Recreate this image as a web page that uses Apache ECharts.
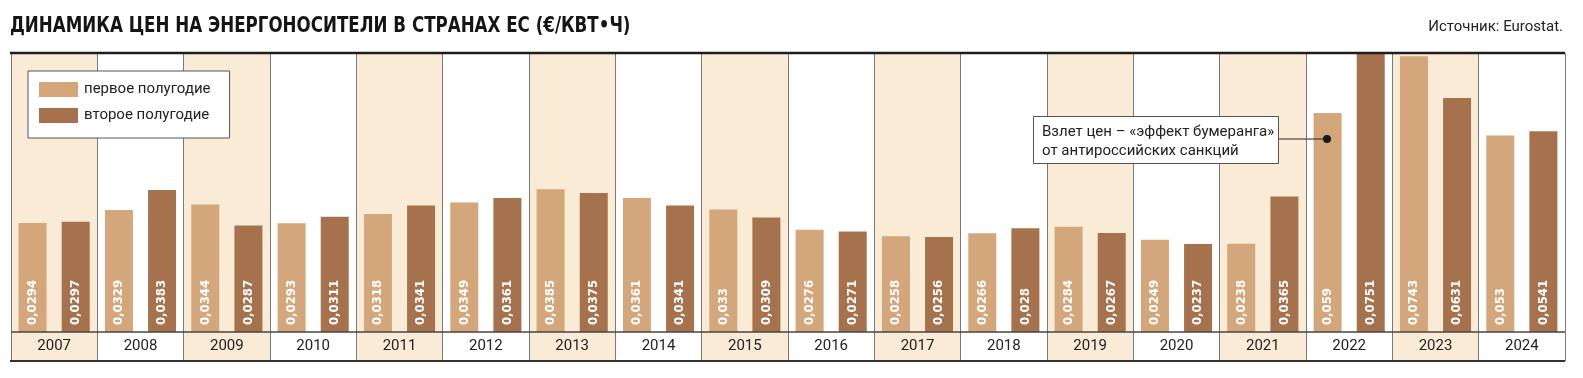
<!DOCTYPE html>
<html>
<head>
<meta charset="utf-8">
<script src="https://cdn.jsdelivr.net/npm/echarts@6/dist/echarts.min.js"></script>
<style>
html,body{margin:0;padding:0;background:#fff;}
#chart{width:1583px;height:378px;}
</style>
</head>
<body>
<div id="chart"></div>
<script>
const years = ['2007','2008','2009','2010','2011','2012','2013','2014','2015','2016','2017','2018','2019','2020','2021','2022','2023','2024'];
const firstHalf = [0.0294,0.0329,0.0344,0.0293,0.0318,0.0349,0.0385,0.0361,0.033,0.0276,0.0258,0.0266,0.0284,0.0249,0.0238,0.059,0.0743,0.053];
const secondHalf = [0.0297,0.0383,0.0287,0.0311,0.0341,0.0361,0.0375,0.0341,0.0309,0.0271,0.0256,0.028,0.0267,0.0237,0.0365,0.0751,0.0631,0.0541];
const seriesNames = ['первое полугодие','второе полугодие'];
const titleText = 'ДИНАМИКА ЦЕН НА ЭНЕРГОНОСИТЕЛИ В СТРАНАХ ЕС (€/КВТ•Ч)';
const sourceText = 'Источник: Eurostat.';
const noteLines = ['Взлет цен – «эффект бумеранга»', 'от антироссийских санкций'];

const LIGHT = '#d4a67b';
const DARK = '#a6724d';
const BEIGE = '#f9ebd6';
const COND = '"DejaVu Sans Condensed", "DejaVu Sans", sans-serif';
const SANS = 'Roboto, "Noto Sans", sans-serif';

const chart = echarts.init(document.getElementById('chart'));

const barLabel = {
  show: true,
  position: 'insideBottom',
  rotate: 90,
  align: 'left',
  verticalAlign: 'middle',
  distance: 7,
  color: '#fff',
  fontFamily: COND,
  fontWeight: 'bold',
  fontSize: 13,
  formatter: p => String(p.value).replace('.', ',')
};

chart.setOption({
  animation: false,
  backgroundColor: '#fff',
  legend: {
    orient: 'vertical',
    left: 28,
    top: 71,
    data: seriesNames,
    icon: 'rect',
    itemWidth: 39,
    itemHeight: 15,
    itemGap: 11,
    padding: [11, 19, 15, 11],
    backgroundColor: '#fff',
    borderColor: '#555',
    borderWidth: 1,
    borderRadius: 0,
    selectedMode: false,
    textStyle: { fontFamily: SANS, fontSize: 15, color: '#222', lineHeight: 15, padding: [0,0,0,1] }
  },
  grid: { left: 11, right: 18, top: 53, bottom: 17, containLabel: false, outerBoundsMode: 'none' },
  xAxis: {
    type: 'category',
    data: years,
    boundaryGap: true,
    axisLine: { show: false, onZero: false },
    axisTick: { show: false },
    axisLabel: { inside: true, fontFamily: SANS, fontSize: 15, color: '#222', margin: 7, verticalAlign: 'bottom' },
    splitLine: { show: true, lineStyle: { color: '#7a7a7a', width: 1 } },
    splitArea: { show: true, areaStyle: { color: [BEIGE, 'rgba(255,255,255,0)'] } }
  },
  yAxis: {
    type: 'value',
    min: -0.0078,
    max: 0.0752,
    show: false,
    splitLine: { show: false }
  },
  series: [
    {
      name: seriesNames[0], type: 'bar', data: firstHalf,
      barWidth: 28, barGap: '54%',
      itemStyle: { color: LIGHT },
      label: barLabel,
      markLine: {
        silent: true,
        symbol: 'none',
        label: { show: false },
        lineStyle: { color: '#444', width: 1.5, type: 'solid' },
        data: [{ yAxis: 0 }]
      }
    },
    {
      name: seriesNames[1], type: 'bar', data: secondHalf,
      barWidth: 28, barGap: '54%',
      itemStyle: { color: DARK },
      label: barLabel
    }
  ],
  graphic: [
    { type: 'text', x: 10, y: 26, scaleX: 0.843, style: { text: titleText, font: 'bold 22px ' + COND, fill: '#151515', textVerticalAlign: 'middle' } },
    { type: 'line', shape: { x1: 10, y1: 53, x2: 1565, y2: 53 }, style: { stroke: '#1e1e1e', lineWidth: 2.5 }, z: 10 },
    { type: 'line', shape: { x1: 10, y1: 361, x2: 1565, y2: 361 }, style: { stroke: '#333', lineWidth: 2 }, z: 10 },
    { type: 'text', x: 1563, y: 27, style: { text: sourceText, font: '15px ' + SANS, fill: '#222', textAlign: 'right', textVerticalAlign: 'middle' } },
    { type: 'line', shape: { x1: 1279, y1: 139, x2: 1327, y2: 139 }, style: { stroke: '#222', lineWidth: 1.2 }, z: 20 },
    { type: 'circle', shape: { cx: 1327, cy: 139, r: 4 }, style: { fill: '#1a1a1a' }, z: 21 },
    { type: 'rect', shape: { x: 1033.5, y: 116.5, width: 245, height: 47 }, style: { fill: '#fff', stroke: '#555', lineWidth: 1 }, z: 20 },
    { type: 'text', x: 1042, y: 132, style: { text: noteLines[0], font: '15px ' + SANS, fill: '#222', textVerticalAlign: 'middle' }, z: 21 },
    { type: 'text', x: 1042, y: 151, style: { text: noteLines[1], font: '15px ' + SANS, fill: '#222', textVerticalAlign: 'middle' }, z: 21 }
  ]
});
</script>
</body>
</html>
